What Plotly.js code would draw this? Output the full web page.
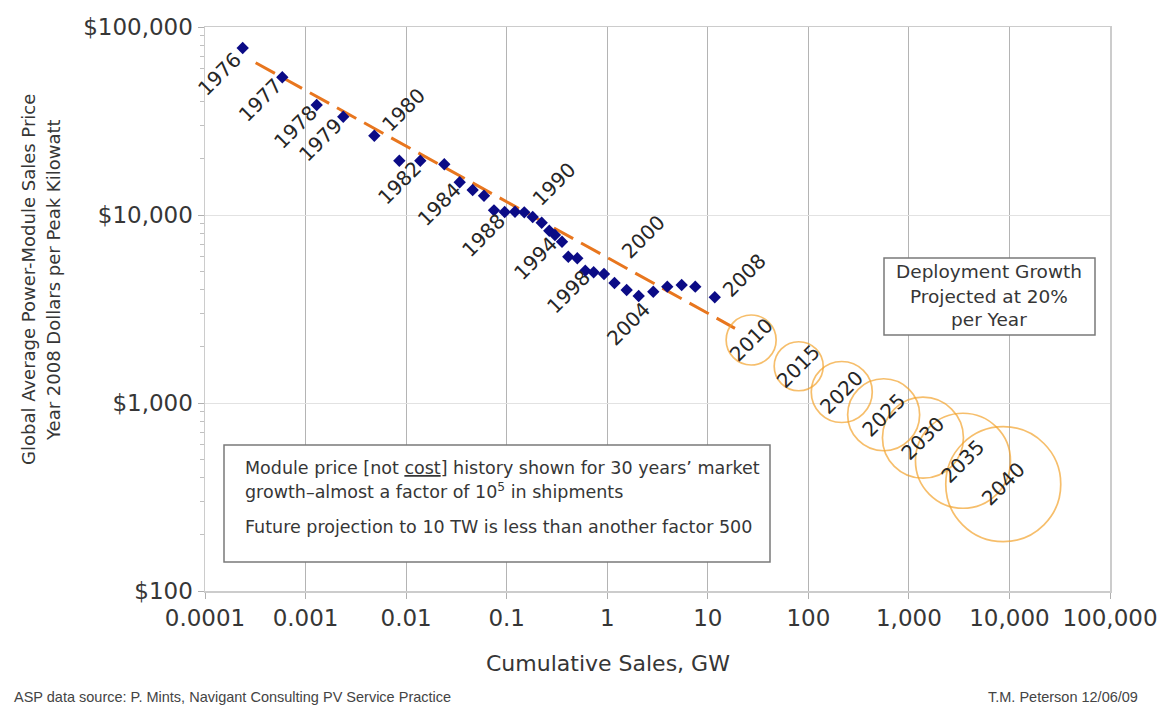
<!DOCTYPE html>
<html>
<head>
<meta charset="utf-8">
<script src="https://cdn.plot.ly/plotly-3.0.1.min.js"></script>
<style>html,body{margin:0;padding:0;background:#fff;}#chart{width:1174px;height:707px;}</style>
</head>
<body>
<div id="chart"></div>
<script>
// ---------------- DATA ----------------
const years = [1976,1977,1978,1979,1980,1981,1982,1983,1984,1985,1986,1987,1988,1989,1990,1991,1992,1993,1994,1995,1996,1997,1998,1999,2000,2001,2002,2003,2004,2005,2006,2007,2008];
const cumulativeGW = [0.000237,0.000587,0.00129,0.00237,0.00483,0.00856,0.01384,0.02397,0.0341,0.0459,0.0595,0.0748,0.0956,0.121,0.1497,0.1815,0.223,0.2653,0.302,0.355,0.410,0.504,0.605,0.733,0.929,1.181,1.561,2.055,2.871,3.956,5.50,7.51,11.74];
const priceUSDperKW = [77320,54010,38470,33330,26410,19440,19440,18610,14930,13580,12660,10590,10370,10400,10330,9760,9100,8250,7830,7210,6000,5884,5055,4957,4855,4348,3992,3708,3908,4156,4244,4156,3650];

const trendGW = [0.000319, 18.64];
const trendPrice = [64580, 2496];

const projYears = ["2010","2015","2020","2025","2030","2035","2040"];
const projGW = [27.0, 80.2, 215, 561, 1380, 3450, 8680];
const projPrice = [2163, 1568, 1144, 866, 654, 493, 370];

const labeledYears = [1976,1977,1978,1979,1980,1982,1984,1988,1990,1994,1998,2000,2004,2008];

const xTickVals = [0.0001,0.001,0.01,0.1,1,10,100,1000,10000,100000];
const xTickText = ["0.0001","0.001","0.01","0.1","1","10","100","1,000","10,000","100,000"];
const yTickVals = [100,1000,10000,100000];
const yTickText = ["$100","$1,000","$10,000","$100,000"];

// ---------------- STYLE ----------------
const FONT = "DejaVu Sans, Open Sans, sans-serif";
const TXT = "#363636";
// pixel offsets of year labels from their point
const labelShift = {1976:[-23,-26],1977:[-22,-23],1978:[-21,-22],1979:[-23,-23],1980:[29,26],1982:[-21,-22],1984:[-20,-22],1988:[-21,-23],1990:[30,28],1994:[-19,-23],1998:[-17,-21],2000:[39,37],2004:[-25,-32],2008:[30,22]};
// marker diameters (px) of projection bubbles
const bubbleSize = [50,49,61,72,81,95,115];

const traces = [
  {
    x: trendGW, y: trendPrice, type: 'scatter', mode: 'lines',
    line: {color: '#E8761E', width: 3, dash: '22px,9px'}, hoverinfo: 'skip'
  },
  {
    x: cumulativeGW, y: priceUSDperKW, type: 'scatter', mode: 'markers',
    marker: {symbol: 'diamond', size: 9.5, color: '#0b0b86'}, text: years
  },
  {
    x: projGW, y: projPrice, type: 'scatter', mode: 'markers', text: projYears,
    marker: {symbol: 'circle-open', size: bubbleSize, color: '#F2A22C', line: {width: 1.7, color: '#F2A22C'}}
  }
];

const annotations = [];
labeledYears.forEach(function(yr){
  const i = years.indexOf(yr);
  const s = labelShift[yr];
  annotations.push({
    x: Math.log10(cumulativeGW[i]), y: Math.log10(priceUSDperKW[i]), xref:'x', yref:'y',
    text: String(yr), showarrow:false, textangle:-45, xshift:s[0], yshift:s[1],
    font:{family:FONT, size:20, color:'#262626'}
  });
});
projYears.forEach(function(yr,i){
  annotations.push({
    x: Math.log10(projGW[i]), y: Math.log10(projPrice[i]), xref:'x', yref:'y',
    text: yr, showarrow:false, textangle:-45,
    font:{family:FONT, size:20, color:'#262626'}
  });
});

// pixel -> paper helpers for free text (plot area: x 205..1110, y 27..591)
function px(v){ return (v-205)/905; }
function py(v){ return (591-v)/564; }

// axis titles
annotations.push({xref:'paper', yref:'paper', x:px(28), y:py(280), text:'Global Average Power-Module Sales Price', textangle:-90, showarrow:false, xanchor:'center', yanchor:'middle', font:{family:FONT, size:18, color:TXT}});
annotations.push({xref:'paper', yref:'paper', x:px(53), y:py(280), text:'Year 2008 Dollars per Peak Kilowatt', textangle:-90, showarrow:false, xanchor:'center', yanchor:'middle', font:{family:FONT, size:18, color:TXT}});
annotations.push({xref:'paper', yref:'paper', x:px(608), y:py(663), text:'Cumulative Sales, GW', showarrow:false, xanchor:'center', yanchor:'middle', font:{family:FONT, size:22, color:TXT}});

// box 1 text
annotations.push({xref:'paper', yref:'paper', x:px(243), y:py(468), text:'Module price [not <u>cost</u>] history shown for 30 years’ market', showarrow:false, xanchor:'left', yanchor:'middle', font:{family:FONT, size:17.5, color:TXT}});
annotations.push({xref:'paper', yref:'paper', x:px(243), y:py(491), text:'growth–almost a factor of 10<sup>5</sup> in shipments', showarrow:false, xanchor:'left', yanchor:'middle', font:{family:FONT, size:17.5, color:TXT}});
annotations.push({xref:'paper', yref:'paper', x:px(243), y:py(527), text:'Future projection to 10 TW is less than another factor 500', showarrow:false, xanchor:'left', yanchor:'middle', font:{family:FONT, size:17.5, color:TXT}});

// box 2 text
['Deployment Growth','Projected at 20%','per Year'].forEach(function(t,k){
  annotations.push({xref:'paper', yref:'paper', x:px(989), y:py([271,296,320][k]), text:t, showarrow:false, xanchor:'center', yanchor:'middle', font:{family:FONT, size:18.5, color:TXT}});
});

// footers
annotations.push({xref:'paper', yref:'paper', x:px(12), y:py(697), text:'ASP data source: P. Mints, Navigant Consulting PV Service Practice', showarrow:false, xanchor:'left', yanchor:'middle', font:{family:'Liberation Sans, Arial, sans-serif', size:14.5, color:'#444'}});
annotations.push({xref:'paper', yref:'paper', x:px(1140), y:py(697), text:'T.M. Peterson 12/06/09', showarrow:false, xanchor:'right', yanchor:'middle', font:{family:'Liberation Sans, Arial, sans-serif', size:14.5, color:'#444'}});

const shapes = [];
shapes.push({type:'rect', xref:'paper', yref:'paper', x0:px(224), x1:px(770), y0:py(562), y1:py(445), line:{color:'#7a7a7a', width:1.5}, fillcolor:'#ffffff', layer:'above'});
shapes.push({type:'rect', xref:'paper', yref:'paper', x0:px(884), x1:px(1095), y0:py(335), y1:py(258), line:{color:'#7a7a7a', width:1.5}, fillcolor:'#ffffff', layer:'above'});

const minorY = [];
[100,1000,10000].forEach(function(d){ for(let k=2;k<=9;k++) minorY.push(d*k); });

const layout = {
  width:1174, height:707,
  margin:{l:205, r:64, t:27, b:116},
  paper_bgcolor:'#ffffff', plot_bgcolor:'#ffffff',
  showlegend:false,
  font:{family:FONT, color:TXT},
  xaxis:{
    type:'log', range:[-4,5], tickmode:'array', tickvals:xTickVals, ticktext:xTickText,
    ticks:'outside', ticklen:6, tickcolor:'#b0b0b0', showgrid:true, gridcolor:'#b4b4b4', gridwidth:1,
    showline:true, linecolor:'#cccccc', linewidth:1.5, mirror:true, zeroline:false,
    tickfont:{family:FONT, size:23, color:TXT}
  },
  yaxis:{
    type:'log', range:[2,5], tickmode:'array', tickvals:yTickVals, ticktext:yTickText,
    ticks:'outside', ticklen:6, tickcolor:'#b0b0b0', showgrid:true, gridcolor:'#e2e2e2', gridwidth:1,
    showline:true, linecolor:'#cccccc', linewidth:1.5, mirror:true, zeroline:false,
    tickfont:{family:FONT, size:23, color:TXT},
    minor:{tickmode:'array', tickvals:minorY, ticks:'outside', ticklen:4, tickcolor:'#c0c0c0', showgrid:false}
  },
  annotations: annotations,
  shapes: shapes
};

Plotly.newPlot('chart', traces, layout, {displayModeBar:false, staticPlot:true});
</script>
</body>
</html>
